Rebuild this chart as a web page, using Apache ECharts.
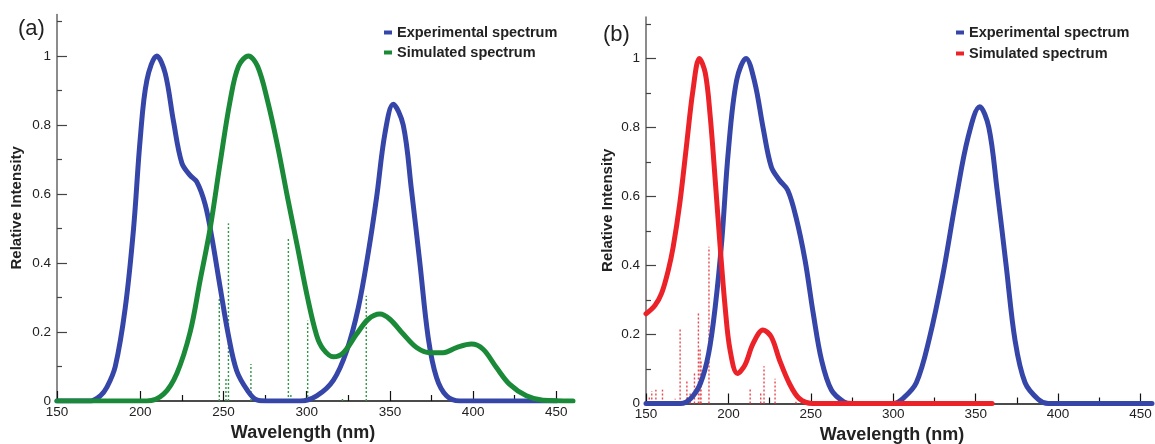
<!DOCTYPE html>
<html>
<head>
<meta charset="utf-8">
<script src="https://cdn.jsdelivr.net/npm/echarts@6/dist/echarts.min.js"></script>
<style>
  html, body { margin: 0; padding: 0; background: #fff; }
  #chart { width: 1155px; height: 444px; }
</style>
</head>
<body>
<div id="chart"></div>
<script>
// panel (a): experimental (blue) and simulated (green) spectra
var expA_nm  = [150, 170, 176, 180, 185, 191, 196, 200, 204, 210, 215, 220, 225, 230, 234, 239, 243, 248, 253, 258, 264.5, 270, 276, 296, 306, 316, 324, 331, 337, 342, 347, 352, 358, 363, 368, 373, 378, 384, 392, 450];
var expA_int = [0, 0, 0.015, 0.04, 0.10, 0.27, 0.50, 0.76, 0.93, 1.0, 0.95, 0.81, 0.69, 0.654, 0.635, 0.57, 0.475, 0.33, 0.19, 0.087, 0.03, 0.003, 0, 0, 0.015, 0.06, 0.145, 0.27, 0.43, 0.59, 0.775, 0.86, 0.80, 0.61, 0.40, 0.184, 0.068, 0.015, 0, 0];
var simA_nm  = [150, 204, 214, 222, 230, 236, 242, 248, 254, 259, 265, 270.5, 276.5, 282.5, 288.5, 294.5, 300.5, 306, 310, 316, 322, 330, 337, 344, 350, 358, 366, 374, 382, 390, 399, 406, 414, 422, 432, 442, 460];
var simA_int = [0, 0, 0.02, 0.08, 0.2, 0.35, 0.50, 0.69, 0.87, 0.97, 1.0, 0.97, 0.87, 0.74, 0.59, 0.446, 0.30, 0.19, 0.15, 0.128, 0.14, 0.194, 0.237, 0.252, 0.237, 0.194, 0.155, 0.14, 0.14, 0.155, 0.165, 0.15, 0.097, 0.048, 0.015, 0.002, 0];
var stickA_nm  = [247.5, 251.5, 253, 266.5, 289, 290.5, 300.6, 321.5, 335.8];
var stickA_int = [0.30, 0.066, 0.515, 0.107, 0.475, 0.02, 0.233, 0.01, 0.305];

// panel (b): experimental (blue) and simulated (red) spectra
var expB_nm  = [150, 171, 177, 183, 188, 192, 196, 200, 205, 210.7, 216, 221, 226, 231, 236, 241, 246.5, 251.5, 256.5, 262.5, 270, 275, 300, 306, 314, 322, 330, 338, 345.5, 352.5, 358, 363, 368.5, 374, 380, 388, 394, 457];
var expB_int = [0, 0, 0.014, 0.058, 0.145, 0.28, 0.473, 0.734, 0.937, 1.0, 0.93, 0.80, 0.686, 0.647, 0.618, 0.54, 0.415, 0.26, 0.126, 0.039, 0.005, 0, 0, 0.015, 0.06, 0.19, 0.37, 0.59, 0.773, 0.86, 0.80, 0.62, 0.40, 0.18, 0.06, 0.012, 0, 0];
var simB_nm  = [150, 155.5, 159.5, 163.5, 166.5, 170.5, 174.5, 178.5, 182.4, 186, 189, 192, 195, 198, 201, 205.5, 210, 215, 221, 226, 231, 237, 243, 251, 360];
var simB_int = [0.26, 0.285, 0.32, 0.386, 0.454, 0.58, 0.744, 0.908, 1.0, 0.957, 0.83, 0.647, 0.454, 0.28, 0.155, 0.087, 0.111, 0.174, 0.213, 0.193, 0.126, 0.058, 0.0145, 0, 0];
var stickB_nm  = [152, 153.5, 156, 160, 167.7, 170.7, 174.8, 176.8, 179.4, 181.8, 182.8, 183.4, 188.2, 213.2, 219.6, 221.6, 228.3, 241];
var stickB_int = [0.02, 0.036, 0.04, 0.04, 0.014, 0.217, 0.068, 0.03, 0.087, 0.265, 0.16, 0.125, 0.454, 0.043, 0.034, 0.108, 0.072, 0.005];

var xMajor = [150, 200, 250, 300, 350, 400, 450];
var xMinor = [175, 225, 275, 325, 375, 425];
var yMajor = [0, 0.2, 0.4, 0.6, 0.8, 1];
var yMinor = [0.1, 0.3, 0.5, 0.7, 0.9, 1.1];

var FONT = "'Liberation Sans', Arial, sans-serif";
var BLUE = '#3646a8', GREEN = '#1b8a38', RED = '#ec2229';

function pairs(xs, ys) {
  return xs.map(function (x, i) { return [x, ys[i]]; });
}

function xAxes(grid, max, nameGap, shift) {
  return [{
    type: 'value', gridIndex: grid, min: 150, max: max, position: 'bottom',
    name: 'Wavelength (nm)', nameLocation: 'middle', nameGap: nameGap,
    nameTextStyle: { fontFamily: FONT, fontWeight: 'bold', fontSize: 18, color: '#222', padding: [0, shift, 0, 0] },
    axisLine: { lineStyle: { color: '#111', width: 1.5 } },
    axisTick: { inside: true, length: 10, customValues: xMajor, lineStyle: { color: '#111', width: 1.2 } },
    axisLabel: { customValues: xMajor, margin: 4, fontFamily: FONT, fontSize: 13.5, color: '#222' },
    splitLine: { show: false }
  }, {
    type: 'value', gridIndex: grid, min: 150, max: max, position: 'bottom',
    axisLine: { show: false },
    axisTick: { inside: true, length: 6, customValues: xMinor, lineStyle: { color: '#111', width: 1.2 } },
    axisLabel: { show: false },
    splitLine: { show: false }
  }];
}

function yAxes(grid, nameGap) {
  return [{
    type: 'value', gridIndex: grid, min: 0, max: 1.12, position: 'left',
    name: 'Relative Intensity', nameLocation: 'middle', nameGap: nameGap, nameRotate: 90,
    nameTextStyle: { fontFamily: FONT, fontWeight: 'bold', fontSize: 15, color: '#222' },
    axisLine: { show: true, lineStyle: { color: '#666', width: 1.5 } },
    axisTick: { show: true, inside: true, length: 10, customValues: yMajor, lineStyle: { color: '#444', width: 1.2 } },
    axisLabel: {
      customValues: yMajor, margin: 6, fontFamily: FONT, fontSize: 13.5, color: '#222',
      formatter: function (v) { return String(Math.round(v * 10) / 10); }
    },
    splitLine: { show: false }
  }, {
    type: 'value', gridIndex: grid, min: 0, max: 1.12, position: 'left', offset: 0,
    axisLine: { show: false },
    axisTick: { show: true, inside: true, length: 5, customValues: yMinor, lineStyle: { color: '#444', width: 1.2 } },
    axisLabel: { show: false },
    splitLine: { show: false }
  }];
}

function curve(name, xi, yi, xs, ys, color) {
  return {
    name: name, type: 'line', xAxisIndex: xi, yAxisIndex: yi,
    data: pairs(xs, ys), smooth: 0.35, symbol: 'none', z: 3,
    color: color,
    lineStyle: { color: color, width: 5, join: 'round', cap: 'round' }
  };
}

function sticks(xi, yi, xs, ys, color) {
  return {
    type: 'custom', xAxisIndex: xi, yAxisIndex: yi, z: 1,
    data: pairs(xs, ys),
    renderItem: function (params, api) {
      var p0 = api.coord([api.value(0), 0]);
      var p1 = api.coord([api.value(0), api.value(1)]);
      return {
        type: 'line',
        shape: { x1: p0[0], y1: p0[1], x2: p1[0], y2: p1[1] },
        style: { stroke: color, lineWidth: 1.4, lineDash: [2, 2] }
      };
    }
  };
}

var legendText = { fontFamily: FONT, fontWeight: 'bold', fontSize: 14.5, color: '#222' };

var chart = echarts.init(document.getElementById('chart'), null, { renderer: 'canvas' });
chart.setOption({
  backgroundColor: '#fff',
  animation: false,
  title: [
    { text: '(a)', left: 13, top: 13, textStyle: { fontFamily: FONT, fontSize: 22, fontWeight: 'normal', color: '#222' } },
    { text: '(b)', left: 598, top: 19, textStyle: { fontFamily: FONT, fontSize: 22, fontWeight: 'normal', color: '#222' } }
  ],
  legend: [{
    left: 379, top: 20, orient: 'vertical', itemGap: 5, itemWidth: 8, itemHeight: 4,
    icon: 'rect', selectedMode: false, textStyle: legendText,
    data: [
      { name: 'Experimental spectrum', itemStyle: { color: BLUE } },
      { name: 'Simulated spectrum', itemStyle: { color: GREEN } }
    ]
  }, {
    left: 951, top: 20, orient: 'vertical', itemGap: 6, itemWidth: 8, itemHeight: 4,
    icon: 'rect', selectedMode: false, textStyle: legendText,
    data: [
      { name: 'Experimental spectrum', itemStyle: { color: BLUE } },
      { name: 'Simulated spectrum', itemStyle: { color: RED } }
    ]
  }],
  grid: [
    { left: 57, top: 14.6, right: 582, bottom: 43, outerBoundsMode: 'none' },
    { left: 646, top: 17, right: 3, bottom: 40.5, outerBoundsMode: 'none' }
  ],
  xAxis: xAxes(0, 460, 21, 24).concat(xAxes(1, 457, 21, 14)),
  yAxis: yAxes(0, 33).concat(yAxes(1, 31)),
  series: [
    sticks(0, 0, stickA_nm, stickA_int, '#2f9a45'),
    curve('Experimental spectrum', 0, 0, expA_nm, expA_int, BLUE),
    curve('Simulated spectrum', 0, 0, simA_nm, simA_int, GREEN),
    sticks(2, 2, stickB_nm, stickB_int, '#e8484c'),
    curve('Experimental spectrum', 2, 2, expB_nm, expB_int, BLUE),
    curve('Simulated spectrum', 2, 2, simB_nm, simB_int, RED)
  ]
});
</script>
</body>
</html>
